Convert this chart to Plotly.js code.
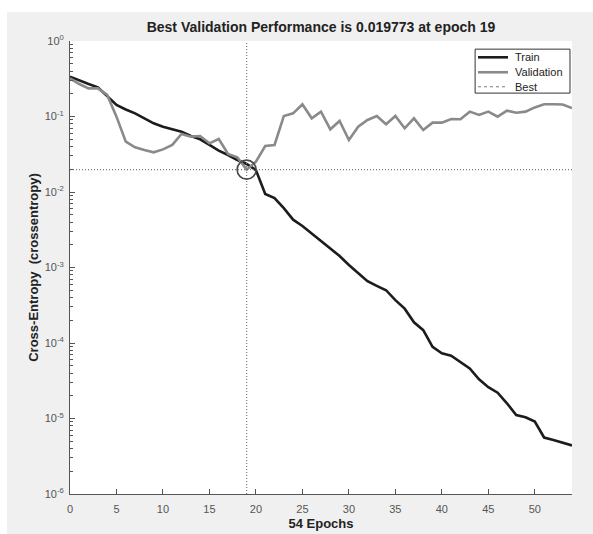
<!DOCTYPE html>
<html>
<head>
<meta charset="utf-8">
<script src="https://cdn.plot.ly/plotly-3.0.1.min.js"></script>
<style>
html,body{margin:0;padding:0;background:#ffffff;}
#chart{position:absolute;left:7px;top:12px;width:586px;height:522px;}
</style>
</head>
<body>
<div id="chart"></div>
<script>
// ---- data ----
const epochs = [0,1,2,3,4,5,6,7,8,9,10,11,12,13,14,15,16,17,18,19,20,21,22,23,24,25,26,27,28,29,30,31,32,33,34,35,36,37,38,39,40,41,42,43,44,45,46,47,48,49,50,51,52,53,54];
const trainLoss = [0.337,0.298,0.269,0.243,0.183,0.142,0.124,0.110,0.0946,0.0813,0.0733,0.0683,0.063,0.0552,0.0499,0.042,0.0353,0.0309,0.0265,0.0235,0.0195,0.0094,0.0083,0.0061,0.0043,0.00355,0.00284,0.00226,0.00179,0.00142,0.00108,0.00084,0.00066,0.00057,0.00050,0.00037,0.000285,0.000188,0.000148,0.000089,0.000073,0.000068,0.0000565,0.000046,0.000033,0.000026,0.000022,0.0000159,0.0000111,0.0000104,0.0000091,0.0000056,0.0000052,0.0000048,0.0000044];
const valLoss = [0.320,0.269,0.236,0.236,0.193,0.0995,0.0464,0.0391,0.036,0.0335,0.0367,0.042,0.0586,0.0541,0.0552,0.0441,0.0504,0.0319,0.0288,0.019773,0.0252,0.0407,0.042,0.1016,0.110,0.145,0.0946,0.116,0.0676,0.0872,0.0489,0.0733,0.090,0.1016,0.0788,0.1016,0.0697,0.0946,0.0663,0.0829,0.0829,0.0927,0.092,0.116,0.1047,0.116,0.0995,0.1194,0.1124,0.116,0.132,0.145,0.145,0.144,0.129];
const bestEpoch = 19;
const bestValue = 0.019773;
const xTickVals = [0,5,10,15,20,25,30,35,40,45,50];
const yTickVals = [1e-6,1e-5,1e-4,1e-3,1e-2,1e-1,1];
const yTickText = ['10<sup>-6</sup>','10<sup>-5</sup>','10<sup>-4</sup>','10<sup>-3</sup>','10<sup>-2</sup>','10<sup>-1</sup>','10<sup>0</sup>'];
const legendNames = ['Train', 'Validation', 'Best'];
const xRange = [0, 54];

// minor log ticks (2..9 in each decade)
const yMinor = [];
for (let k = -6; k < 0; k++) for (let m = 2; m <= 9; m++) yMinor.push(m * Math.pow(10, k));

const font = 'Liberation Sans, Arial, sans-serif';
const trainColor = '#1c1c1c', valColor = '#8a8a8a', bestColor = '#7a7a7a';
const bestDash = '1px,2px';

const traces = [
  {x: epochs, y: trainLoss, type: 'scatter', mode: 'lines', name: legendNames[0],
   line: {color: trainColor, width: 2.6}},
  {x: epochs, y: valLoss, type: 'scatter', mode: 'lines', name: legendNames[1],
   line: {color: valColor, width: 2.6}},
  {x: xRange, y: [bestValue, bestValue], type: 'scatter', mode: 'lines', name: legendNames[2],
   line: {color: bestColor, width: 1.2, dash: bestDash}},
  {x: [bestEpoch, bestEpoch], y: [1e-6, 1], type: 'scatter', mode: 'lines', name: legendNames[2],
   line: {color: bestColor, width: 1.2, dash: bestDash}},
  {x: [bestEpoch], y: [bestValue], type: 'scatter', mode: 'markers', name: 'best point',
   marker: {symbol: 'circle-open', size: 19, color: '#4a4a4a', line: {width: 1.6, color: '#4a4a4a'}}}
];

// compact MATLAB-style legend box (paper coordinates)
const lgBox = {x0: 0.807, x1: 0.996, y0: 0.885, y1: 0.982};
const lgRowsY = [0.964, 0.931, 0.899];
const lgLineX = [0.8127, 0.8725];
const lgTextX = 0.882;
const lgStyles = [
  {color: trainColor, width: 2.6},
  {color: valColor, width: 2.6},
  {color: bestColor, width: 1, dash: 'dot'}
];
const shapes = [{type: 'rect', xref: 'paper', yref: 'paper', x0: lgBox.x0, x1: lgBox.x1, y0: lgBox.y0, y1: lgBox.y1,
                 fillcolor: '#ffffff', line: {color: '#333333', width: 1}, layer: 'above'}];
const annotations = [];
legendNames.forEach((nm, i) => {
  shapes.push({type: 'line', xref: 'paper', yref: 'paper', x0: lgLineX[0], x1: lgLineX[1], y0: lgRowsY[i], y1: lgRowsY[i],
               line: lgStyles[i], layer: 'above'});
  annotations.push({xref: 'paper', yref: 'paper', x: lgTextX, y: lgRowsY[i], xanchor: 'left', yanchor: 'middle',
                    text: nm, showarrow: false, font: {family: font, size: 11, color: '#222'}});
});

const layout = {
  width: 586, height: 522,
  paper_bgcolor: '#f0f0f0',
  plot_bgcolor: '#ffffff',
  margin: {l: 63, r: 21, t: 29, b: 40},
  font: {family: font, size: 11, color: '#4d4d4d'},
  showlegend: false,
  title: {text: '<b>Best Validation Performance is 0.019773 at epoch 19</b>',
          font: {family: font, size: 14, color: '#222222'},
          xref: 'paper', x: 0.5, xanchor: 'center', y: 0.972, yanchor: 'middle'},
  xaxis: {range: xRange, tickmode: 'array', tickvals: xTickVals,
          ticks: 'inside', ticklen: 5, tickcolor: '#555', showline: true, linecolor: '#555', linewidth: 1,
          mirror: false, showgrid: false, zeroline: false, ticklabelstandoff: 5,
          tickfont: {family: font, size: 11, color: '#555'},
          title: {text: '<b>54 Epochs</b>', font: {family: font, size: 13, color: '#222'}, standoff: 4}},
  yaxis: {type: 'log', range: [-6, 0], tickmode: 'array', tickvals: yTickVals, ticktext: yTickText,
          ticks: 'inside', ticklen: 5, tickcolor: '#555', showline: true, linecolor: '#555', linewidth: 1,
          mirror: false, showgrid: false, zeroline: false, ticklabelstandoff: 3,
          minor: {tickmode: 'array', tickvals: yMinor, ticks: 'inside', ticklen: 3, tickcolor: '#555', showgrid: false},
          tickfont: {family: font, size: 11, color: '#555'},
          title: {text: '<b>Cross-Entropy  (crossentropy)</b>', font: {family: font, size: 13, color: '#222'}, standoff: 3}},
  shapes: shapes,
  annotations: annotations
};

Plotly.newPlot('chart', traces, layout, {displayModeBar: false, staticPlot: true});
</script>
</body>
</html>
